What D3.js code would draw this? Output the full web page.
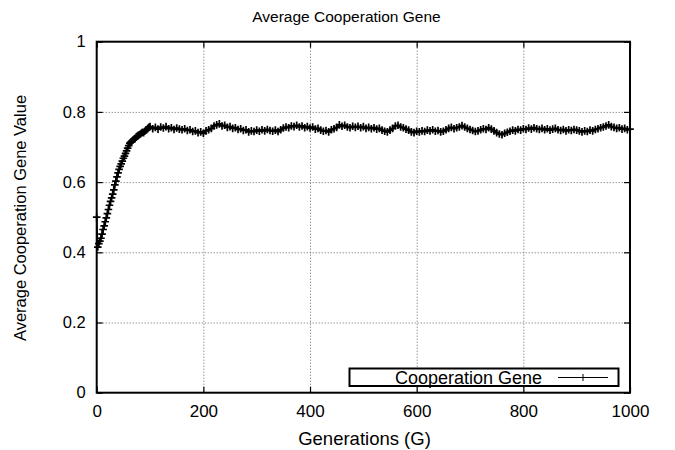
<!DOCTYPE html>
<html>

<head>
    <meta charset="UTF-8">
    <title>Average Cooperation Gene</title>
    <script src="https://d3js.org/d3.v7.min.js"></script>
    <style>
        body { margin: 0; background: #fff; }
        text { font-family: "Liberation Sans", Arial, sans-serif; fill: #000; }
    </style>
</head>

<body>
    <div class="canvas"></div>

    <script>
        // data
        // generations 0..100, every 2 generations
        const earlyValues = [
            0.500, 0.415, 0.425, 0.432, 0.440, 0.452, 0.465, 0.475, 0.487, 0.498,
            0.510, 0.522, 0.534, 0.545, 0.555, 0.566, 0.578, 0.592, 0.603, 0.615,
            0.626, 0.636, 0.645, 0.652, 0.660, 0.668, 0.674, 0.682, 0.689, 0.697,
            0.704, 0.711, 0.714, 0.717, 0.720, 0.722, 0.724, 0.728, 0.731, 0.733,
            0.735, 0.737, 0.740, 0.742, 0.741, 0.745, 0.748, 0.750, 0.753, 0.756,
            0.758
        ];
        // generations 105..1000, every 5 generations
        const lateValues = [
            0.752, 0.756, 0.751, 0.757, 0.754, 0.758, 0.752, 0.755, 0.750, 0.754,
            0.751, 0.749, 0.752, 0.747, 0.749, 0.744, 0.746, 0.741, 0.743, 0.739,
            0.746, 0.749, 0.753, 0.760, 0.763, 0.766, 0.760, 0.762, 0.756, 0.758,
            0.753, 0.755, 0.750, 0.752, 0.747, 0.749, 0.743, 0.746, 0.744, 0.748,
            0.745, 0.749, 0.746, 0.750, 0.747, 0.745, 0.748, 0.744, 0.749, 0.754,
            0.757, 0.755, 0.760, 0.758, 0.762, 0.757, 0.760, 0.755, 0.758, 0.754,
            0.757, 0.751, 0.753, 0.748, 0.745, 0.747, 0.743, 0.749, 0.752, 0.756,
            0.763, 0.759, 0.762, 0.757, 0.755, 0.759, 0.756, 0.759, 0.755, 0.758,
            0.753, 0.756, 0.752, 0.755, 0.751, 0.753, 0.748, 0.745, 0.743, 0.748,
            0.753, 0.760, 0.762, 0.757, 0.755, 0.751, 0.748, 0.743, 0.741, 0.745,
            0.743, 0.746, 0.744, 0.748, 0.746, 0.749, 0.745, 0.747, 0.743, 0.745,
            0.749, 0.753, 0.756, 0.752, 0.755, 0.757, 0.761, 0.757, 0.753, 0.750,
            0.747, 0.744, 0.746, 0.749, 0.752, 0.750, 0.755, 0.751, 0.746, 0.741,
            0.737, 0.735, 0.739, 0.742, 0.745, 0.748, 0.746, 0.750, 0.748, 0.752,
            0.750, 0.754, 0.751, 0.755, 0.752, 0.750, 0.753, 0.749, 0.752, 0.748,
            0.751, 0.753, 0.749, 0.747, 0.750, 0.746, 0.749, 0.747, 0.750, 0.748,
            0.746, 0.743, 0.746, 0.744, 0.748, 0.746, 0.750, 0.752, 0.755, 0.757,
            0.760, 0.763, 0.758, 0.756, 0.753, 0.755, 0.751, 0.753, 0.749, 0.751
        ];
        const xTicks = [0, 200, 400, 600, 800, 1000];
        const yTicks = [0, 0.2, 0.4, 0.6, 0.8, 1];
        const seriesName = "Cooperation Gene";

        const data = earlyValues.map((v, i) => ({ gen: i * 2, value: v }))
            .concat(lateValues.map((v, i) => ({ gen: 105 + i * 5, value: v })));

        // margins & dimensions
        const width = 675;
        const height = 450;
        const margin = { top: 41.7, right: 45, bottom: 57.3, left: 96.7 };
        const graphWidth = width - margin.left - margin.right;
        const graphHeight = height - margin.top - margin.bottom;

        const svg = d3.select(".canvas")
            .append("svg")
            .attr("width", width)
            .attr("height", height);

        const graph = svg.append("g")
            .attr("transform", `translate(${margin.left}, ${margin.top})`);

        const x = d3.scaleLinear().domain([0, 1000]).range([0, graphWidth]);
        const y = d3.scaleLinear().domain([0, 1]).range([graphHeight, 0]);

        // grid (dotted)
        const grid = graph.append("g")
            .attr("stroke", "#666")
            .attr("stroke-width", 1)
            .attr("stroke-dasharray", "1,2");
        grid.selectAll(".gx")
            .data(xTicks.slice(1, -1))
            .enter().append("line")
            .attr("x1", d => x(d) + 0.5).attr("x2", d => x(d) + 0.5)
            .attr("y1", 0).attr("y2", graphHeight);
        grid.selectAll(".gy")
            .data(yTicks.slice(1, -1))
            .enter().append("line")
            .attr("y1", d => y(d) + 0.5).attr("y2", d => y(d) + 0.5)
            .attr("x1", 0).attr("x2", graphWidth);

        // axes with inward ticks, mirrored on top & right
        const tickLen = 6;
        graph.append("g")
            .attr("transform", `translate(0, ${graphHeight})`)
            .call(d3.axisBottom(x).tickValues(xTicks).tickSize(-tickLen).tickPadding(12).tickFormat(d3.format("d")))
            .selectAll("text").style("font-size", "17px");
        graph.append("g")
            .call(d3.axisTop(x).tickValues(xTicks).tickSize(-tickLen).tickFormat(""));
        graph.append("g")
            .call(d3.axisLeft(y).tickValues(yTicks).tickSize(-tickLen).tickPadding(11).tickFormat(d => d3.format("")(d)))
            .selectAll("text").style("font-size", "16.5px");
        graph.append("g")
            .attr("transform", `translate(${graphWidth}, 0)`)
            .call(d3.axisRight(y).tickValues(yTicks).tickSize(-tickLen).tickFormat(""));

        graph.selectAll(".domain").remove();
        graph.selectAll(".tick line").attr("stroke", "#000").attr("stroke-width", 1.2);

        // data line & plus markers
        const line = d3.line().x(d => x(d.gen)).y(d => y(d.value));
        graph.append("path")
            .datum(data)
            .attr("fill", "none")
            .attr("stroke", "#000")
            .attr("stroke-width", 1.5)
            .attr("d", line);

        const plus = (cx, cy, s) => `M${cx - s},${cy}H${cx + s}M${cx},${cy - s}V${cy + s}`;
        graph.append("path")
            .attr("fill", "none")
            .attr("stroke", "#000")
            .attr("stroke-width", 1.7)
            .attr("d", data.map(d => plus(x(d.gen), y(d.value), 3.8)).join(""));

        // border
        graph.append("rect")
            .attr("x", 0).attr("y", 0)
            .attr("width", graphWidth).attr("height", graphHeight)
            .attr("fill", "none")
            .attr("stroke", "#000")
            .attr("stroke-width", 2);

        // legend (opaque box)
        const legend = svg.append("g");
        legend.append("rect")
            .attr("x", 349.5).attr("y", 368.5)
            .attr("width", 269).attr("height", 17.5)
            .attr("fill", "#fff")
            .attr("stroke", "#000")
            .attr("stroke-width", 2);
        legend.append("text")
            .attr("x", 542).attr("y", 383.5)
            .attr("text-anchor", "end")
            .style("font-size", "18px")
            .text(seriesName);
        legend.append("path")
            .attr("stroke", "#000")
            .attr("stroke-width", 1)
            .attr("fill", "none")
            .attr("d", `M558,377.5H608` + plus(583, 377.5, 3.5));

        // titles
        svg.append("text")
            .attr("x", 346.5).attr("y", 22)
            .attr("text-anchor", "middle")
            .style("font-size", "15.5px")
            .text("Average Cooperation Gene");
        svg.append("text")
            .attr("x", 364.5).attr("y", 445)
            .attr("text-anchor", "middle")
            .style("font-size", "18.5px")
            .text("Generations (G)");
        svg.append("text")
            .attr("transform", "translate(26, 218) rotate(-90)")
            .attr("text-anchor", "middle")
            .style("font-size", "16.5px")
            .text("Average Cooperation Gene Value");
    </script>
</body>

</html>
